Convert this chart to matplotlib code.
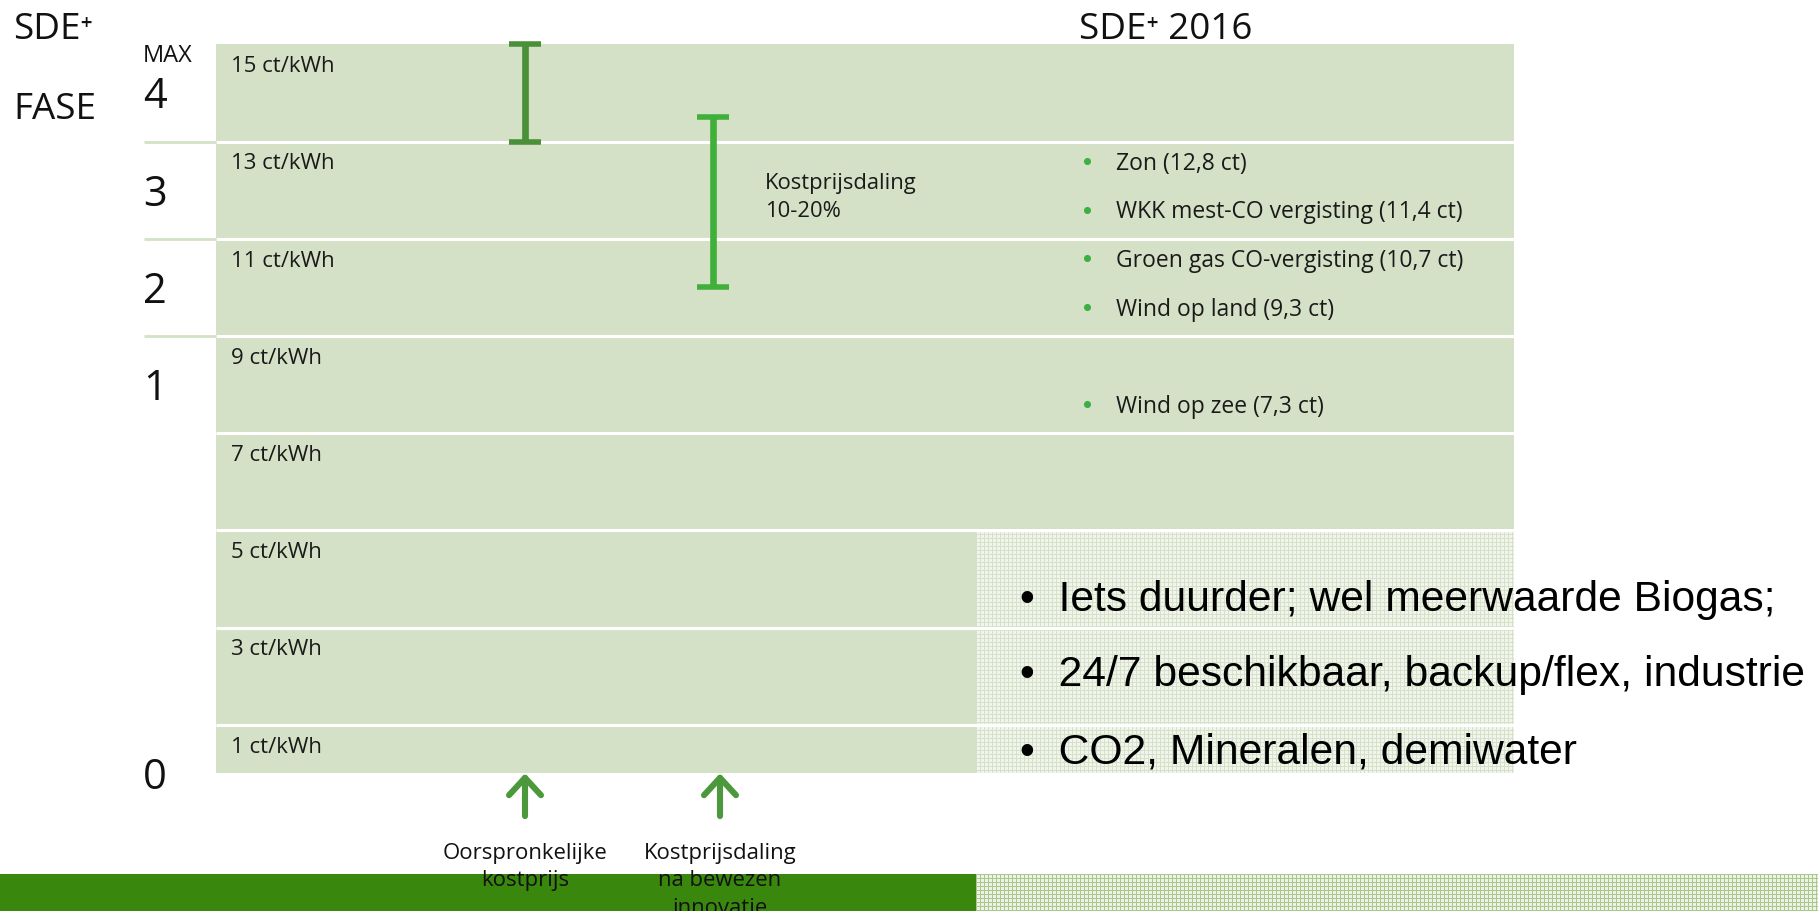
import matplotlib.pyplot as plt
from matplotlib import font_manager
import numpy as np

# --- data ---------------------------------------------------------------
band_tops = [1, 3, 5, 7, 9, 11, 13, 15]          # ct/kWh, upper edge of each row
fase_labels = ['0', '1', '2', '3', '4']
fase_levels = [0, 8, 10, 12, 14]
fase_dividers = [9, 11, 13]

cost_low = [13, 10]                              # ct/kWh
cost_high = [15, 13.5]
cost_labels = [['Oorspronkelijke', 'kostprijs'],
               ['Kostprijsdaling', 'na bewezen', 'innovatie']]

tech_names = ['Zon', 'WKK mest-CO vergisting', 'Groen gas CO-vergisting',
              'Wind op land', 'Wind op zee']
tech_values = [12.8, 11.4, 10.7, 9.3, 7.3]
tech_rows = [12.6, 11.6, 10.6, 9.6, 7.6]

biogas_points = ['Iets duurder; wel meerwaarde Biogas;',
                 '24/7 beschikbaar, backup/flex, industrie',
                 'CO2, Mineralen, demiwater']
biogas_rows = [3.57, 2.03, 0.43]

# --- style --------------------------------------------------------------
PANEL = '#d5e1c6'
DARK = '#4a9039'
BRIGHT = '#41b03b'
ARROW = '#4b993c'
BAR = '#3a870e'
DOT = '#3cb043'
FONT = ['Open Sans', 'DejaVu Sans']
installed = {f.name for f in font_manager.fontManager.ttflist}
if 'Liberation Sans Narrow' in installed:
    BIG_FONT, BIG_SIZE = ['Liberation Sans Narrow', 'DejaVu Sans'], 37
else:
    BIG_FONT, BIG_SIZE = ['Liberation Sans', 'DejaVu Sans'], 30.7

W, H = 1818, 911
Y0_PX, PX_CT = 773.3, 48.6          # pixel row of 0 ct, pixels per ct
y_top = Y0_PX / PX_CT
y_bot = (Y0_PX - H) / PX_CT


def px(row):
    # pixel row of the reference -> ct/kWh
    return (Y0_PX - row) / PX_CT


fig = plt.figure(figsize=(W / 100, H / 100), dpi=100)
ax = fig.add_axes([0, 0, 1, 1])
ax.set_xlim(0, W)
ax.set_ylim(y_bot, y_top)
ax.axis('off')

x_left, x_right, x_split = 216, 1514, 976


def texture(nx, ny, base, line):
    img = np.empty((ny, nx, 3))
    img[:] = base
    img[::4, :] = line
    img[:, ::4] = line
    return img


# rows of the panel
bottoms = [0] + band_tops[:-1]
heights = np.diff([0] + band_tops)
ax.bar(x_left, heights, bottom=bottoms, width=x_right - x_left,
       align='edge', color=PANEL, zorder=1)

# patterned lower right block
base = np.array([242, 245, 238]) / 255
line = np.array([214, 226, 200]) / 255
ax.imshow(texture(x_right - x_split, int(5 * PX_CT), base, line),
          extent=(x_split, x_right, 0, 5), aspect='auto',
          interpolation='nearest', zorder=2)

ax.hlines(band_tops[:-1], x_left, x_right, color='white', lw=2.2, zorder=3)
ax.hlines(fase_dividers, 144, x_left, color=PANEL, lw=2, zorder=3)

for top in band_tops:
    ax.text(231, top - 0.46, f'{top} ct/kWh', fontsize=16, family=FONT,
            va='center', ha='left', color='#1a1a1a', zorder=5)

# headings
ax.text(13, px(30), 'SDE\u207a', fontsize=26.5, family=FONT,
        va='center', color='#111111')
ax.text(13, px(110), 'FASE', fontsize=26.5, family=FONT,
        va='center', color='#111111')
ax.text(143, px(56), 'MAX', fontsize=17, family=FONT,
        va='center', color='#111111')
ax.text(1079, px(30), 'SDE\u207a 2016', fontsize=26.5,
        family=FONT, va='center', color='#111111')

for lab, lev in zip(fase_labels, fase_levels):
    ax.text(143, lev - 0.32, lab, fontsize=30, family=FONT,
            va='baseline', ha='left', color='#111111')

# cost ranges
for xc, lo, hi, col in zip([525, 713], cost_low, cost_high, [DARK, BRIGHT]):
    ax.errorbar([xc], [lo], yerr=[[0], [hi - lo]], fmt='none', ecolor=col,
                elinewidth=4.8, capsize=11.5, capthick=4, zorder=4)

for i, txt in enumerate(['Kostprijsdaling', '10-20%']):
    ax.text(765, px(183.5 + 28 * i), txt, fontsize=15.8, family=FONT,
            va='center', ha='left', color='#1a1a1a', zorder=5)

# technologies in SDE+ 2016
for name, val, row in zip(tech_names, tech_values, tech_rows):
    label = f'{name} ({val:.1f} ct)'.replace('.', ',')
    ax.scatter([1087], [row], s=26, color=DOT, zorder=5, linewidths=0)
    ax.text(1116, row - 0.06, label, fontsize=16.5, family=FONT, va='center',
            ha='left', color='#1a1a1a', zorder=5)

# biogas remarks
for txt, row in zip(biogas_points, biogas_rows):
    ax.text(1020, row, '\u2022  ' + txt, fontsize=BIG_SIZE,
            family=BIG_FONT, va='center',
            ha='left', color='#000000', zorder=6)

# bottom bar
bar_top = px(874)
ax.bar(0, bar_top - y_bot, bottom=y_bot, width=x_split, align='edge',
       color=BAR, zorder=1)
ax.imshow(texture(W - x_split, int((bar_top - y_bot) * PX_CT),
                  np.array([236, 242, 230]) / 255,
                  np.array([170, 200, 140]) / 255),
          extent=(x_split, W, y_bot, bar_top), aspect='auto',
          interpolation='nearest', zorder=2)

# arrows and their labels
for xc, lines in zip([525, 720], cost_labels):
    ax.annotate('', xy=(xc, 0), xytext=(xc, -0.88),
                arrowprops=dict(arrowstyle='->,head_length=1.25,head_width=1.15',
                                lw=4.4, color=ARROW, shrinkA=0, shrinkB=0,
                                capstyle='round', joinstyle='round'),
                zorder=4)
    for i, txt in enumerate(lines):
        ax.text(xc, px(853 + 27.5 * i), txt, fontsize=15.9, family=FONT,
                va='center', ha='center', color='#111111', zorder=6)

ax.set_xlim(0, W)
ax.set_ylim(y_bot, y_top)
fig.savefig('out.png', dpi=100)
